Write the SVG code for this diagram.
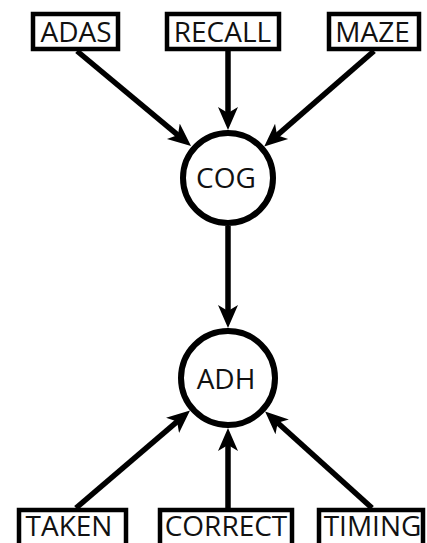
<svg xmlns="http://www.w3.org/2000/svg" width="427" height="543" viewBox="0 0 427 543">
<style>
.box{fill:#fff;stroke:#000;stroke-width:4.5}
.circ{fill:#fff;stroke:#000;stroke-width:6}
.lbl{font-family:"Open Sans","Liberation Sans",sans-serif;font-size:28px;fill:#111;text-anchor:middle}
.edge{stroke:#000;stroke-width:5.5;fill:none;marker-end:url(#arr)}
</style>
<defs>
<marker id="arr" markerUnits="userSpaceOnUse" markerWidth="24" markerHeight="22" viewBox="0 0 24 22" refX="11" refY="11" orient="auto">
<path d="M23,11 L0,1 L6,11 L0,21 Z" fill="#000"/>
</marker>
</defs>
<rect width="427" height="543" fill="#fff"/>
<g id="connectors">
<line class="edge" x1="77" y1="51" x2="181.8" y2="138.3"/>
<line class="edge" x1="228" y1="51" x2="228" y2="118"/>
<line class="edge" x1="374" y1="51" x2="273.3" y2="138.6"/>
<line class="edge" x1="228" y1="226" x2="228" y2="316"/>
<line class="edge" x1="76" y1="508" x2="180.9" y2="418.3"/>
<line class="edge" x1="228" y1="508" x2="228" y2="440"/>
<line class="edge" x1="372" y1="508" x2="274" y2="419.5"/>
</g>
<g id="ADAS"><rect class="box" x="33" y="14" width="85" height="35"/><text class="lbl" x="76" y="41.5">ADAS</text></g>
<g id="RECALL"><rect class="box" x="167" y="14" width="112" height="35"/><text class="lbl" x="222.5" y="41.5">RECALL</text></g>
<g id="MAZE"><rect class="box" x="329" y="14" width="90" height="35"/><text class="lbl" x="372.5" y="41.5">MAZE</text></g>
<g id="COG"><circle class="circ" cx="228" cy="178" r="45"/><text class="lbl" x="226" y="188">COG</text></g>
<g id="ADH"><circle class="circ" cx="228" cy="378" r="47"/><text class="lbl" x="226" y="389">ADH</text></g>
<g id="TAKEN"><rect class="box" x="19" y="510" width="107" height="45"/><text class="lbl" x="69" y="536">TAKEN</text></g>
<g id="CORRECT"><rect class="box" x="160" y="510" width="132" height="45"/><text class="lbl" x="226" y="536">CORRECT</text></g>
<g id="TIMING"><rect class="box" x="319" y="510" width="104" height="45"/><text class="lbl" x="372.5" y="536">TIMING</text></g>
</svg>
